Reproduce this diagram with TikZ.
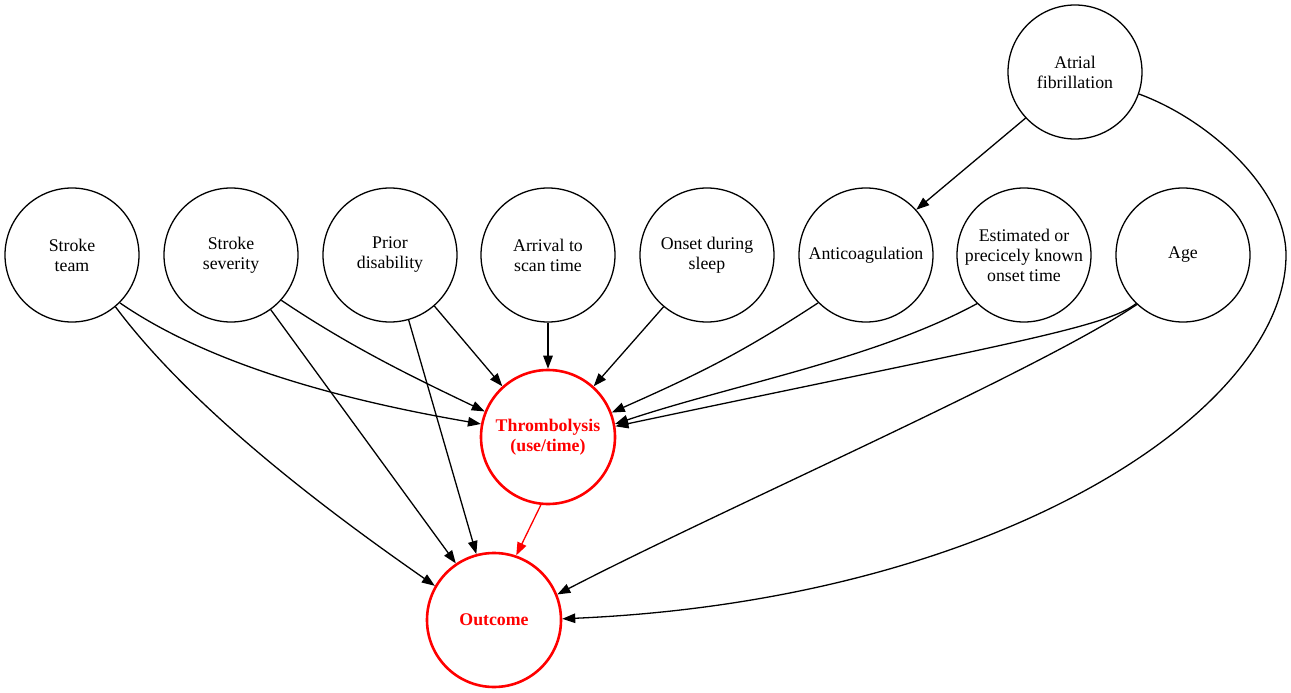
\documentclass[tikz,border=0pt]{standalone}
\usepackage{fontspec}
\setmainfont{Liberation Serif}
\usetikzlibrary{arrows.meta}
\begin{document}
\begin{tikzpicture}[x=1pt,y=-1pt,
  var/.style={circle,draw=black,line width=1.3pt,minimum size=134pt,inner sep=0pt,align=center,
    font={\fontsize{17.8}{20}\selectfont}},
  key/.style={var,draw=red,line width=2.6pt,text=red,font={\fontsize{17.8}{20}\selectfont\bfseries}},
  edge/.style={line width=1.3pt,-{Triangle[length=13pt,width=9.5pt]}},
  redge/.style={edge,draw=red,fill=red}]
\fill[white] (0,0) rectangle (1291,693);
\useasboundingbox (0,0) rectangle (1291,693);
\node[var] (af) at (1075,72) {Atrial\\fibrillation};
\node[var] (team) at (72,255) {Stroke\\team};
\node[var] (sev) at (231,255) {Stroke\\severity};
\node[var] (prior) at (390,255) {Prior\\disability};
\node[var] (arr) at (548,255) {Arrival to\\scan time};
\node[var] (sleep) at (707,255) {Onset during\\sleep};
\node[var] (anti) at (866,255) {Anticoagulation};
\node[var] (est) at (1024,255) {Estimated or\\precicely known\\onset time};
\node[var] (age) at (1183,255) {Age};
\node[key] (thr) at (548,437) {Thrombolysis\\(use/time)};
\node[key] (out) at (494,620) {Outcome};

\draw[edge] (af.-137.4) -- (anti.42);
\draw[edge] (af.-19.2) .. controls (1210,120) and (1286,190) .. (1286,255)
  .. controls (1286,410) and (1000,600) .. (out.1);
\draw[edge] (team.-45) .. controls (220,372) and (371,405) .. (thr.169);
\draw[edge] (team.-50.3) .. controls (200,420) and (355,530) .. (out.150);
\draw[edge] (sev.-42.7) .. controls (352,348) and (417,379) .. (thr.158);
\draw[edge] (sev.-54.5) -- (out.124.4);
\draw[edge] (prior.-49.8) -- (thr.132.2);
\draw[edge] (prior.-74.7) -- (out.105.1);
\draw[edge] (arr) -- (thr);
\draw[edge] (sleep.-130) -- (thr.48.4);
\draw[edge] (anti.-135.6) .. controls (743,352) and (703,372) .. (thr.21.8);
\draw[edge] (est.-134.4) .. controls (875,359) and (735,384) .. (thr.11);
\draw[edge] (age.-134.4) .. controls (1105,328) and (1000,345) .. (thr.9.3);
\draw[edge] (age.-133) .. controls (1040,370) and (720,510) .. (out.22.2);
\draw[redge] (thr.-96.7) -- (out.71.8);
\end{tikzpicture}
\end{document}
